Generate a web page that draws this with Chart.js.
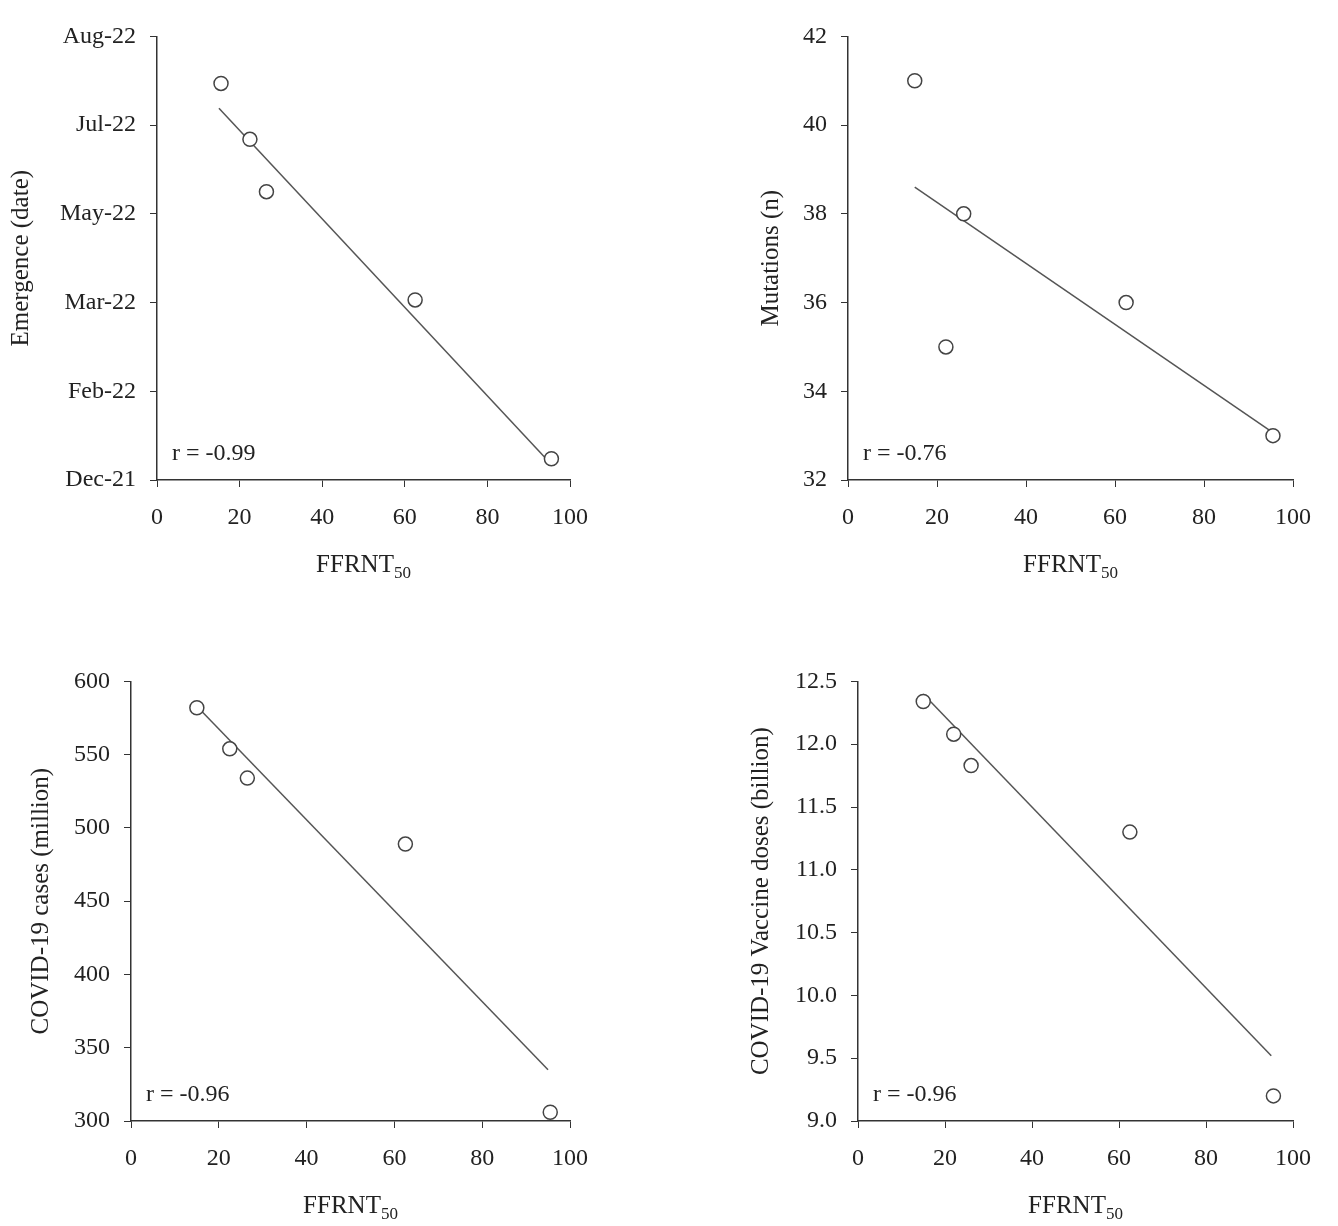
<!DOCTYPE html>
<html>
<head>
<meta charset="utf-8">
<script src="https://cdn.jsdelivr.net/npm/chart.js@4.4.0/dist/chart.umd.min.js"></script>
<style>
  body { margin: 0; background: #fff; width: 1338px; height: 1226px; position: relative; overflow: hidden; }
  canvas { position: absolute; }
</style>
</head>
<body>
<canvas id="c1"></canvas>
<canvas id="c2"></canvas>
<canvas id="c3"></canvas>
<canvas id="c4"></canvas>
<script>
// 공통 x 값 (FFRNT50)
const ffrnt = [15.5, 22.5, 26.5, 62.5, 95.5];

// 패널 1: 출현 시기 (눈금 인덱스 단위)
const dateLabels = ["Dec-21", "Feb-22", "Mar-22", "May-22", "Jul-22", "Aug-22"];
const emergence = [4.47, 3.84, 3.25, 2.03, 0.24];
const emergenceFit = [[15, 4.19], [95, 0.2]];

// 패널 2: 돌연변이 수
const mutX = [15, 26, 22, 62.5, 95.5];
const mutations = [41, 38, 35, 36, 33];
const mutFit = [[15, 38.6], [95, 33.1]];

// 패널 3: 확진자 (백만)
const casesX = [15, 22.5, 26.5, 62.5, 95.5];
const cases = [582, 554, 534, 489, 306];
const casesFit = [[15, 583], [95, 335]];

// 패널 4: 백신 접종 (십억)
const dosesX = [15, 22, 26, 62.5, 95.5];
const doses = [12.34, 12.08, 11.83, 11.3, 9.2];
const dosesFit = [[15, 12.4], [95, 9.52]];

const FONT = "'Liberation Serif', 'DejaVu Serif', serif";
const INK = "#333";

// x축 제목(아래첨자)과 r 값 그리기
const annot = {
  id: "annot",
  afterDraw(chart, args, opts) {
    const ctx = chart.ctx, a = chart.chartArea;
    ctx.save();
    ctx.fillStyle = "#222";
    const main = "FFRNT";
    ctx.font = "25px " + FONT;
    const w1 = ctx.measureText(main).width;
    ctx.font = "17px " + FONT;
    const w2 = ctx.measureText("50").width;
    const cx = (a.left + a.right) / 2;
    const x0 = cx - (w1 + w2) / 2;
    const ty = a.bottom + 92;
    ctx.textBaseline = "alphabetic";
    ctx.font = "25px " + FONT;
    ctx.fillText(main, x0, ty);
    ctx.font = "17px " + FONT;
    ctx.fillText("50", x0 + w1, ty + 6);
    ctx.font = "24px " + FONT;
    ctx.fillText(opts.r, a.left + 15, a.bottom - 20);
    ctx.restore();
  }
};

function makePanel(id, box, yw, xs, ys, fit, yopt, ytitle, r) {
  const cv = document.getElementById(id);
  const xh = 100, pad = 12;
  const w = box.right - box.left + yw + pad + 9;
  const h = box.bottom - box.top + pad + xh + 4;
  cv.style.left = (box.left - yw) + "px";
  cv.style.top = (box.top - pad - 4) + "px";
  cv.style.width = w + "px";
  cv.style.height = h + "px";
  cv.width = w; cv.height = h;

  const pts = xs.map((x, i) => ({ x: x, y: ys[i] }));
  const line = fit.map((p) => ({ x: p[0], y: p[1] }));

  new Chart(cv.getContext("2d"), {
    type: "scatter",
    data: {
      datasets: [
        { data: pts, pointRadius: 7, pointBackgroundColor: "#fff", pointBorderColor: "#444", pointBorderWidth: 1.5, order: 1 },
        { data: line, showLine: true, pointRadius: 0, borderColor: "#555", borderWidth: 1.5, order: 2 }
      ]
    },
    options: {
      responsive: false,
      animation: false,
      layout: { padding: { top: pad, right: pad, left: 0, bottom: 0 } },
      plugins: { legend: { display: false }, tooltip: { enabled: false }, annot: { r: r } },
      scales: {
        x: {
          min: 0, max: 100,
          afterFit: (s) => { s.height = xh; },
          ticks: { stepSize: 20, color: "#222", font: { family: FONT, size: 24 }, padding: 16, maxRotation: 0 },
          grid: { drawOnChartArea: false, tickLength: 7, color: INK },
          border: { color: INK, width: 1.5 }
        },
        y: Object.assign({
          afterFit: (s) => { s.width = yw; },
          grid: { drawOnChartArea: false, tickLength: 7, color: INK },
          border: { color: INK, width: 1.5 },
          title: { display: true, text: ytitle, color: "#222", font: { family: FONT, size: 25 }, padding: 0 }
        }, yopt)
      }
    },
    plugins: [annot]
  });
}

const tickFont = { family: FONT, size: 24 };

makePanel("c1", { left: 157, top: 24, right: 583, bottom: 480 }, 151, ffrnt, emergence, emergenceFit,
  { min: 0, max: 5, ticks: { stepSize: 1, color: "#222", font: tickFont, padding: 14, callback: (v) => dateLabels[v] } },
  "Emergence (date)", "r = -0.99");

makePanel("c2", { left: 848, top: 24, right: 1306, bottom: 480 }, 92, mutX, mutations, mutFit,
  { min: 32, max: 42, ticks: { stepSize: 2, color: "#222", font: tickFont, padding: 14 } },
  "Mutations (n)", "r = -0.76");

makePanel("c3", { left: 131, top: 669, right: 583, bottom: 1121 }, 105, casesX, cases, casesFit,
  { min: 300, max: 600, ticks: { stepSize: 50, color: "#222", font: tickFont, padding: 14 } },
  "COVID-19 cases (million)", "r = -0.96");

makePanel("c4", { left: 858, top: 669, right: 1306, bottom: 1121 }, 112, dosesX, doses, dosesFit,
  { min: 9, max: 12.5, ticks: { stepSize: 0.5, color: "#222", font: tickFont, padding: 14, callback: (v) => v.toFixed(1) } },
  "COVID-19 Vaccine doses (billion)", "r = -0.96");
</script>
</body>
</html>
